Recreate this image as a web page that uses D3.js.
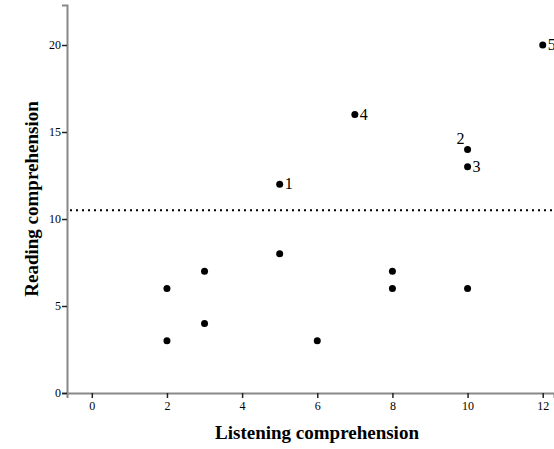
<!DOCTYPE html>
<html>
<head>
<meta charset="utf-8">
<script src="https://cdn.jsdelivr.net/npm/d3@7"></script>
<style>
  body { margin: 0; background: #fff; }
  svg { display: block; }
  .tick text { font-family: "Liberation Serif", "DejaVu Serif", serif; font-size: 12px; fill: #000; }
  .title { font-family: "Liberation Serif", "DejaVu Serif", serif; font-size: 19px; font-weight: bold; fill: #000; }
  .lab { font-family: "Liberation Serif", "DejaVu Serif", serif; font-size: 16px; fill: #000; }
</style>
</head>
<body>
<svg width="554" height="449"></svg>
<script>
// listening (x) vs reading (y) scores, unlabeled students
var listening = [2, 2, 3, 3, 5, 6, 8, 8, 10];
var reading   = [6, 3, 7, 4, 8, 3, 7, 6, 6];

// the labeled students 1..5
var labels      = ["1", "2", "3", "4", "5"];
var labListen   = [5, 10, 10, 7, 12];
var labRead     = [12, 14, 13, 16, 20];

var xTicks = [0, 2, 4, 6, 8, 10, 12];
var yTicks = [0, 5, 10, 15, 20];
var cutoff = 10.5;

var svg = d3.select("svg"),
    margin = {top: 5, right: 0, bottom: 56, left: 67},
    width = +svg.attr("width") - margin.left - margin.right,
    height = +svg.attr("height") - margin.top - margin.bottom,
    x = d3.scaleLinear().domain([-0.66, 12.3]).range([0, width]),
    y = d3.scaleLinear().domain([0, 22.3]).range([height, 0]),
    g = svg.append("g").attr("transform", "translate(" + margin.left + "," + margin.top + ")");

// axes - grey line, dark ticks
var xAxis = g.append("g")
    .attr("transform", "translate(0," + height + ")")
    .call(d3.axisBottom(x).tickValues(xTicks).tickSize(5).tickPadding(3));
var yAxis = g.append("g")
    .call(d3.axisLeft(y).tickValues(yTicks).tickSize(5).tickPadding(1));

[xAxis, yAxis].forEach(function(a) {
  a.select(".domain").attr("stroke", "#888").attr("stroke-width", 2);
  a.selectAll(".tick line").attr("stroke", "#222").attr("stroke-width", 1.5);
});

// dotted cutoff line
g.append("line")
    .attr("x1", 3).attr("x2", width)
    .attr("y1", y(cutoff)).attr("y2", y(cutoff))
    .attr("stroke", "#000").attr("stroke-width", 2)
    .attr("stroke-dasharray", "2,4");

// points
g.selectAll(".pt")
  .data(listening.map(function(v, i) { return {x: v, y: reading[i]}; }))
  .enter().append("circle")
    .attr("class", "pt")
    .attr("cx", function(d) { return x(d.x); })
    .attr("cy", function(d) { return y(d.y); })
    .attr("r", 3.5)
    .attr("fill", "#000");

var lab = labels.map(function(l, i) { return {l: l, x: labListen[i], y: labRead[i]}; });

g.selectAll(".lpt")
  .data(lab)
  .enter().append("circle")
    .attr("class", "lpt")
    .attr("cx", function(d) { return x(d.x); })
    .attr("cy", function(d) { return y(d.y); })
    .attr("r", 3.5)
    .attr("fill", "#000");

// label "2" sits above-left, the rest to the right
g.selectAll(".lab")
  .data(lab)
  .enter().append("text")
    .attr("class", "lab")
    .attr("x", function(d) { return d.l == "2" ? x(d.x) - 11 : x(d.x) + 5; })
    .attr("y", function(d) { return d.l == "2" ? y(d.y) - 5 : y(d.y) + 5; })
    .text(function(d) { return d.l; });

// axis titles
svg.append("text")
    .attr("class", "title")
    .attr("x", 317).attr("y", 439)
    .attr("text-anchor", "middle")
    .text("Listening comprehension");

svg.append("text")
    .attr("class", "title")
    .attr("transform", "translate(38,199) rotate(-90)")
    .attr("text-anchor", "middle")
    .text("Reading comprehension");
</script>
</body>
</html>
